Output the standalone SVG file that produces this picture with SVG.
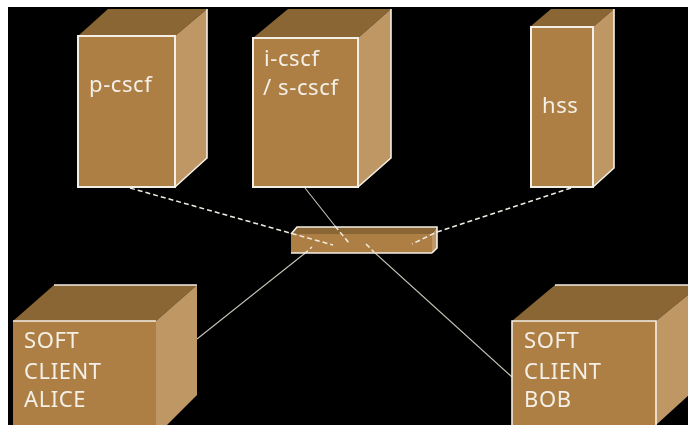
<svg xmlns="http://www.w3.org/2000/svg" width="688" height="425" viewBox="0 0 688 425">
<style>
.front{fill:#ae7f45;stroke:#f4efe6;stroke-width:2}
.top2{fill:#8a6636}
.side2{fill:#be9765}
.edge{stroke:#f4efe6;stroke-width:1.6;fill:none}
.t{font-family:"Noto Sans","DejaVu Sans",sans-serif;font-size:22px;fill:#f4f0e8;letter-spacing:.6px}
.link{fill:none;stroke:#c8c4b8;stroke-width:1.1}
.dash{fill:none;stroke:#f0ece2;stroke-width:1.5;stroke-dasharray:5 3}
</style>
<defs><filter id="soft" x="0" y="0" width="100%" height="100%"><feGaussianBlur stdDeviation="0.45"/></filter></defs>
<rect width="688" height="425" fill="#fff"/>
<rect x="8" y="7" width="680" height="418" fill="#000"/>
<g filter="url(#soft)">
<g id="connectors-under">
<path class="link" d="M197 339L304 254"/>
<path class="link" d="M374 252L512 377"/>
</g>
<g id="p-cscf">
<polygon class="top2" points="78,36 108,9 207,9 175,36"/>
<polygon class="side2" points="175,36 207,9 207,158 175,187"/>
<path class="edge" d="M207 9V158L175 187"/>
<rect class="front" x="78" y="36" width="97" height="151"/>
<text class="t" x="89" y="92">p-cscf</text>
</g>
<g id="i-cscf">
<polygon class="top2" points="253,38 288,9 391,9 358,38"/>
<polygon class="side2" points="358,38 391,9 391,158 358,187"/>
<path class="edge" d="M391 9V158L358 187"/>
<rect class="front" x="253" y="38" width="105" height="149"/>
<text class="t" x="264" y="66">i-cscf</text>
<text class="t" x="263" y="95">/ s-cscf</text>
</g>
<g id="hss">
<polygon class="top2" points="531,26 551,9 614,9 593,27"/>
<polygon class="side2" points="593,27 614,9 614,168 593,187"/>
<path class="edge" d="M614 9V168L593 187"/>
<rect class="front" x="531" y="27" width="62" height="160"/>
<text class="t" x="542" y="113">hss</text>
</g>
<g id="switch">
<polygon class="top2" points="291,234 297,227 437,227 432,234"/>
<polygon class="side2" points="432,234 437,227 437,248 432,253"/>
<path class="edge" d="M291 234L297 227H437V248L432 253"/>
<rect x="291" y="234" width="141" height="19" fill="#ae7f45"/>
<path class="edge" d="M291 253H432"/>
</g>
<g id="alice">
<polygon class="top2" points="13,321 54,285 197,285 156,321"/>
<polygon class="side2" points="156,321 197,285 197,395 156,436"/>
<path class="edge" d="M54 285H197"/>
<rect x="13" y="321" width="143" height="110" fill="#ae7f45"/>
<path class="edge" d="M13 321H156"/>
<text class="t" x="24" y="348">SOFT</text>
<text class="t" x="24" y="379">CLIENT</text>
<text class="t" x="24" y="407">ALICE</text>
</g>
<g id="bob">
<polygon class="top2" points="512,321 555,285 700,285 656,321"/>
<polygon class="side2" points="656,321 700,285 700,385 656,425"/>
<path class="edge" d="M555 285H688"/>
<rect x="512" y="321" width="144" height="110" fill="#ae7f45"/>
<path class="edge" d="M512 425V321H656V425"/>
<text class="t" x="524" y="348">SOFT</text>
<text class="t" x="524" y="379">CLIENT</text>
<text class="t" x="524" y="407">BOB</text>
</g>
<g id="connectors">
<path class="dash" d="M130 188L290 233L333 245"/>
<path class="dash" d="M571 188L437 232L412 244"/>
<path class="link" d="M305 188L335 226"/>
<path class="dash" d="M335 226L349 243"/>
<path class="dash" d="M304 254L312 247"/>
<path class="dash" d="M366 244L374 252"/>
</g>
</g>
</svg>
